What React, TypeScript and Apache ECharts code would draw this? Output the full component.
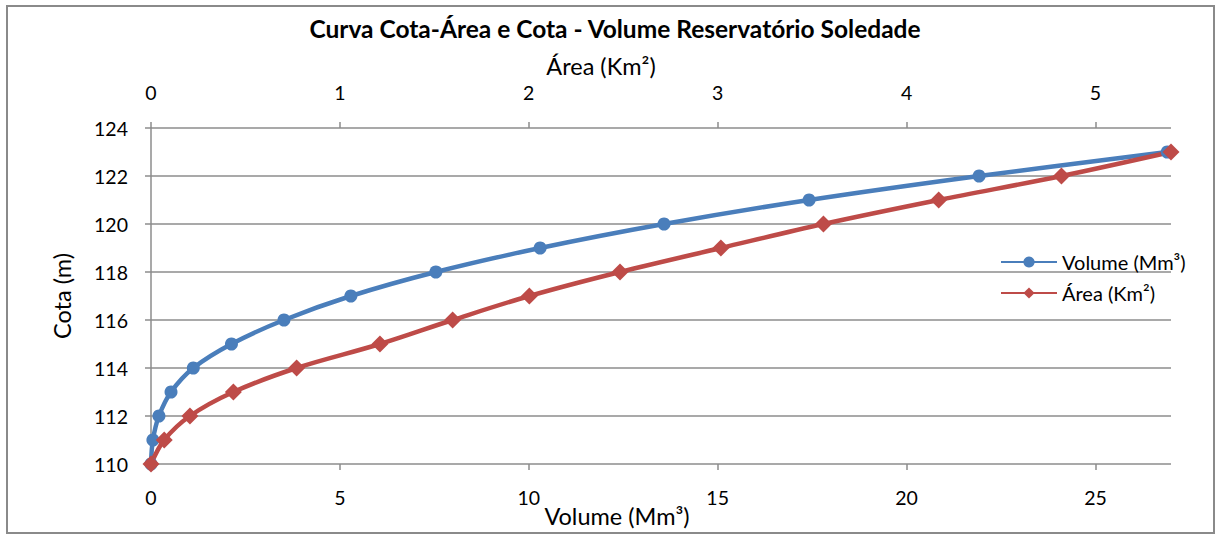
import React, { useEffect, useRef } from "react";
import * as echarts from "echarts";

const cotas = [110, 111, 112, 113, 114, 115, 116, 117, 118, 119, 120, 121, 122, 123];
const volumes = [0, 0.05, 0.21, 0.53, 1.12, 2.13, 3.52, 5.29, 7.54, 10.3, 13.58, 17.42, 21.92, 26.9];
const areas = [0, 0.07, 0.206, 0.436, 0.771, 1.212, 1.597, 2.003, 2.483, 3.017, 3.56, 4.17, 4.82, 5.4];
const volumeTicks = [0, 5, 10, 15, 20, 25];
const areaTicks = [0, 1, 2, 3, 4, 5];

const FONT = "Lato, 'Open Sans', sans-serif";
const BLUE = "#4A7EBB";
const RED = "#BE4B48";
const GRID = "#8c8c8c";

export default function App() {
  const ref = useRef<HTMLDivElement>(null);
  useEffect(() => {
    if (!ref.current) return;
    const chart = echarts.init(ref.current, null, { renderer: "svg" });
    const labelStyle = { color: "#000", fontSize: 19.5, fontFamily: FONT };
    chart.setOption({
      animation: false,
      backgroundColor: "#fff",
      textStyle: { fontFamily: FONT },
      title: {
        text: "Curva Cota-Área e Cota - Volume Reservatório Soledade",
        left: 610,
        top: 11,
        textAlign: "center",
        textStyle: { fontSize: 24.5, fontWeight: "bold", color: "#000", fontFamily: FONT },
      },
      graphic: [
        {
          type: "rect",
          shape: { x: 7, y: 6, width: 1207, height: 527 },
          style: { fill: "none", stroke: "#8a8a8a", lineWidth: 2 },
          silent: true,
        },
        {
          type: "text",
          x: 601,
          y: 66,
          style: { text: "Área (Km²)", fontSize: 23.5, fontFamily: FONT, fill: "#000", textAlign: "center", textVerticalAlign: "middle" },
        },
        {
          type: "text",
          x: 617,
          y: 516,
          style: { text: "Volume (Mm³)", fontSize: 23.5, fontFamily: FONT, fill: "#000", textAlign: "center", textVerticalAlign: "middle" },
        },
      ],
      legend: {
        orient: "vertical",
        left: 995,
        top: 247,
        itemWidth: 56,
        itemHeight: 14,
        itemGap: 11,
        textStyle: { fontSize: 20, color: "#000", fontFamily: FONT },
        data: ["Volume (Mm³)", "Área (Km²)"],
      },
      grid: { left: 151, top: 128, width: 1020, height: 336, containLabel: false },
      xAxis: [
        {
          type: "value",
          position: "bottom",
          min: 0,
          max: 27,
          interval: 5,
          axisLine: { show: false },
          axisTick: { show: true, customValues: volumeTicks, length: 6, lineStyle: { color: GRID, width: 1.5 } },
          axisLabel: { ...labelStyle, margin: 23, customValues: volumeTicks },
          splitLine: { show: false },
        },
        {
          type: "value",
          position: "top",
          min: 0,
          max: 5.4,
          interval: 1,
          axisLine: { show: false },
          axisTick: { show: true, customValues: areaTicks, length: 6, lineStyle: { color: GRID, width: 1.5 } },
          axisLabel: { ...labelStyle, margin: 26, customValues: areaTicks },
          splitLine: { show: false },
        },
      ],
      yAxis: {
        type: "value",
        min: 110,
        max: 124,
        interval: 2,
        name: "Cota (m)",
        nameLocation: "middle",
        nameGap: 77,
        nameRotate: 90,
        nameTextStyle: { fontSize: 23.5, color: "#000", fontFamily: FONT },
        axisLine: { show: true, lineStyle: { color: GRID, width: 1.5 } },
        axisTick: { show: true, length: 6, lineStyle: { color: GRID, width: 1.5 } },
        axisLabel: { ...labelStyle, margin: 23 },
        splitLine: { show: true, lineStyle: { color: GRID, width: 1.5 } },
      },
      series: [
        {
          name: "Volume (Mm³)",
          type: "line",
          xAxisIndex: 0,
          yAxisIndex: 0,
          smooth: 0.35,
          symbol: "circle",
          symbolSize: 13,
          lineStyle: { color: BLUE, width: 4.5 },
          itemStyle: { color: BLUE },
          data: cotas.map((c, i) => [volumes[i], c]),
        },
        {
          name: "Área (Km²)",
          type: "line",
          xAxisIndex: 1,
          yAxisIndex: 0,
          smooth: 0.35,
          symbol: "diamond",
          symbolSize: 17,
          lineStyle: { color: RED, width: 4.5 },
          itemStyle: { color: RED },
          data: cotas.map((c, i) => [areas[i], c]),
        },
      ],
    });
    return () => chart.dispose();
  }, []);
  return (
    <div
      ref={ref}
      style={{ position: "fixed", left: 0, top: 0, width: 1218, height: 534 }}
    />
  );
}
